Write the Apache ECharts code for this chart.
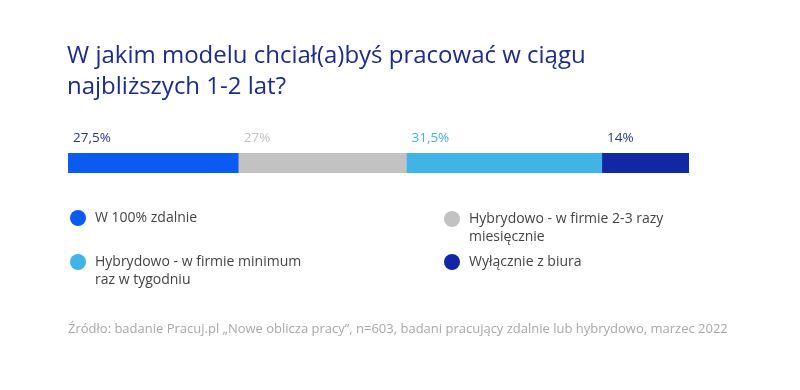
<!DOCTYPE html>
<html>
<head>
<meta charset="utf-8">
<script src="https://cdn.jsdelivr.net/npm/echarts@6/dist/echarts.min.js"></script>
<style>html,body{margin:0;padding:0;background:#fff;}#c{width:800px;height:390px;}</style>
</head>
<body>
<div id="c"></div>
<script>
const titleText = 'W jakim modelu chciał(a)byś pracować w ciągu\nnajbliższych 1-2 lat?';
const sourceText = 'Źródło: badanie Pracuj.pl „Nowe oblicza pracy”, n=603, badani pracujący zdalnie lub hybrydowo, marzec 2022';
const categories = ['Model pracy'];
const seriesNames = ['W 100% zdalnie', 'Hybrydowo - w firmie 2-3 razy miesięcznie', 'Hybrydowo - w firmie minimum raz w tygodniu', 'Wyłącznie z biura'];
const legendLabels = ['W 100% zdalnie', 'Hybrydowo - w firmie 2-3 razy\nmiesięcznie', 'Hybrydowo - w firmie minimum\nraz w tygodniu', 'Wyłącznie z biura'];
const values = [27.5, 27, 31.5, 14];
const valueLabels = ['27,5%', '27%', '31,5%', '14%'];

const barColors = ['#0a5cf0', '#c2c2c2', '#41b3e6', '#1227a3'];
const labelColors = ['#2b3a8f', '#c2c2c2', '#41b3e6', '#2b3a8f'];
const FONT = 'Open Sans';

const chart = echarts.init(document.getElementById('c'), null, {renderer: 'canvas'});

const series = seriesNames.map((name, i) => ({
  name: name,
  type: 'bar',
  stack: 'total',
  barWidth: 20,
  data: [values[i]],
  itemStyle: {color: barColors[i]},
  emphasis: {disabled: true},
  label: {
    show: true,
    position: [5, -15],
    align: 'left',
    verticalAlign: 'middle',
    formatter: () => valueLabels[i],
    color: labelColors[i],
    fontFamily: FONT,
    fontSize: 13.5
  }
}));

// legend icon placement: [iconLeft, iconCentreY]
const legendPos = [[70, 218], [444, 219], [70, 262], [444, 262]];
const legends = seriesNames.map((name, i) => {
  const twoLine = legendLabels[i].indexOf('\n') >= 0;
  // two-line entries get a leading empty line so the first line sits beside the icon
  const text = twoLine ? '\n' + legendLabels[i] : legendLabels[i];
  return {
    data: [{name: name, icon: 'circle'}],
    left: legendPos[i][0],
    top: legendPos[i][1] - (twoLine ? 27 : 9),
    padding: 0,
    itemWidth: 16,
    itemHeight: 16,
    selectedMode: false,
    formatter: () => text,
    textStyle: {
      fontFamily: FONT,
      fontSize: 14,
      lineHeight: 18,
      color: '#444',
      padding: [0, 0, 0, 4]
    }
  };
});

chart.setOption({
  animation: false,
  title: [
    {
      text: titleText,
      left: 67,
      top: 41,
      padding: 0,
      textStyle: {fontFamily: FONT, fontSize: 24, fontWeight: 'normal', lineHeight: 31, color: '#1c2b8f'}
    },
    {
      text: sourceText,
      left: 68,
      top: 323,
      padding: 0,
      textStyle: {fontFamily: FONT, fontSize: 13, fontWeight: 'normal', color: '#a8a8a8'}
    }
  ],
  legend: legends,
  grid: {left: 68, right: 111, top: 153, height: 20, containLabel: false},
  xAxis: {type: 'value', min: 0, max: 100, show: false},
  yAxis: {type: 'category', data: categories, show: false},
  series: series
});
</script>
</body>
</html>
